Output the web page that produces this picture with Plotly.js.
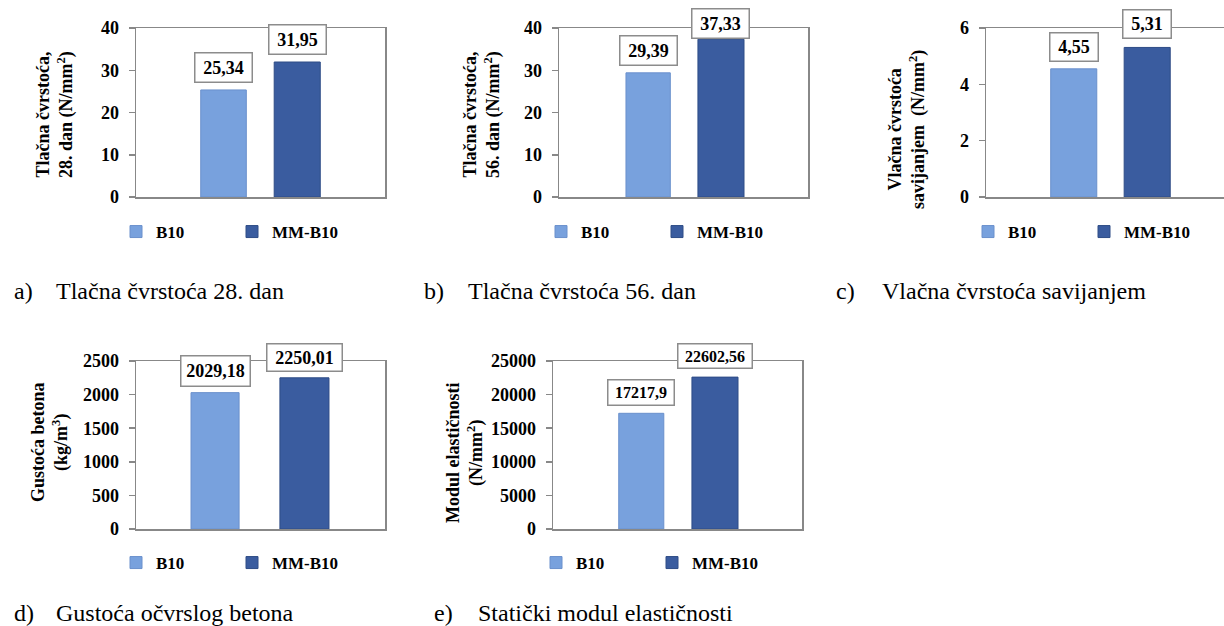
<!DOCTYPE html>
<html><head><meta charset="utf-8">
<script src="https://cdn.plot.ly/plotly-3.0.1.min.js"></script>
<style>html,body{margin:0;padding:0;background:#fff;} #chart{width:1224px;height:626px;}</style>
</head><body><div id="chart"></div>
<script>
// ---- data ----
const seriesNames = ['B10', 'MM-B10'];
const groupPos = [0];
const tlacna28 = [25.34, 31.95];
const tlacna56 = [29.39, 37.33];
const vlacnaSav = [4.55, 5.31];
const gustoca = [2029.18, 2250.01];
const modulElast = [17217.9, 22602.56];
const yTitles = [
  'Tlačna čvrstoća,<br>28. dan (N/mm<sup>2</sup>)',
  'Tlačna čvrstoća,<br>56. dan (N/mm<sup>2</sup>)',
  'Vlačna čvrstoća<br>savijanjem  (N/mm<sup>2</sup>)',
  'Gustoća betona<br>(kg/m<sup>3</sup>)',
  'Modul elastičnosti<br>(N/mm<sup>2</sup>)'
];
const capLetters = ['a)', 'b)', 'c)', 'd)', 'e)'];
const capTexts = ['Tlačna čvrstoća 28. dan', 'Tlačna čvrstoća 56. dan', 'Vlačna čvrstoća savijanjem', 'Gustoća očvrslog betona', 'Statički modul elastičnosti'];

// ---- layout config ----
const W = 1224, H = 626;
const FONT = 'Liberation Serif';
const colors = ['#78A1DD', '#3A5C9F'];
const lineColors = ['#6A90CC', '#2E4C86'];
const axisColor = '#888888';
const panels = [
  {vals: tlacna28, dom: [136, 385, 28, 197], yr: [0, 40], dtick: 10, xr: [-0.5, 0.5], mirrorY: true,
   w: [0.183, 0.185], off: [-0.240, 0.055], tx: 55, ty: 115, cap: [12, 54, 291], leg: [116, 232],
   lf: 18, box: [[50, 22], [50, 22]], ys: [7, 7]},
  {vals: tlacna56, dom: [559, 808, 28, 197], yr: [0, 40], dtick: 10, xr: [-0.5, 0.5], mirrorY: true,
   w: [0.178, 0.185], off: [-0.231, 0.058], tx: 482, ty: 115, cap: [422, 466, 291], leg: [541, 232],
   lf: 18, box: [[50, 22], [50, 22]], ys: [7, 0]},
  {vals: vlacnaSav, dom: [986, 1224, 28, 197], yr: [0, 6], dtick: 2, xr: [-0.5, 0.456], mirrorY: false,
   w: [0.185, 0.185], off: [-0.240, 0.055], tx: 907, ty: 130, cap: [834, 880, 291], leg: [968, 232],
   lf: 18, box: [[41, 21], [41, 21]], ys: [7, 8]},
  {vals: gustoca, dom: [136, 385, 361, 529], yr: [0, 2500], dtick: 500, xr: [-0.5, 0.5], mirrorY: true,
   w: [0.193, 0.197], off: [-0.279, 0.078], tx: 50, ty: 442, cap: [12, 54, 613], leg: [116, 563],
   lf: 18, box: [[62, 23], [68, 20]], ys: [6, 6]},
  {vals: modulElast, dom: [553, 802, 361, 529], yr: [0, 25000], dtick: 5000, xr: [-0.5, 0.5], mirrorY: true,
   w: [0.181, 0.185], off: [-0.236, 0.058], tx: 465, ty: 453, cap: [432, 476, 613], leg: [536, 563],
   lf: 16, box: [[59, 18], [67, 17]], ys: [7, 8]}
];

const fmt = v => String(v).replace('.', ',');
const data = [];
const layout = {
  width: W, height: H, margin: {l: 0, r: 0, t: 0, b: 0},
  paper_bgcolor: '#fff', plot_bgcolor: '#fff',
  barmode: 'overlay', annotations: [], font: {family: FONT, color: '#000'}
};

panels.forEach((p, i) => {
  const n = i === 0 ? '' : String(i + 1);
  const xa = 'x' + n, ya = 'y' + n;
  const legName = 'legend' + n;
  seriesNames.forEach((s, k) => {
    data.push({
      type: 'bar', name: s, x: groupPos, y: [p.vals[k]],
      xaxis: xa, yaxis: ya, legend: legName,
      width: p.w[k], offset: p.off[k],
      marker: {color: colors[k], line: {color: lineColors[k], width: 1}},
      hoverinfo: 'name+y'
    });
    layout.annotations.push({
      xref: xa, yref: ya, x: p.off[k] + p.w[k] / 2, y: p.vals[k],
      xanchor: 'center', yanchor: 'bottom', yshift: p.ys[k],
      text: fmt(p.vals[k]), showarrow: false,
      font: {family: FONT, size: p.lf, weight: 'bold', color: '#000'},
      bgcolor: '#fff', bordercolor: '#8c8c8c', borderwidth: 1.5, borderpad: 3,
      width: p.box[k][0], height: p.box[k][1]
    });
  });
  layout['xaxis' + n] = {
    domain: [p.dom[0] / W, p.dom[1] / W], anchor: ya, range: p.xr,
    showline: true, linecolor: axisColor, linewidth: 1.5, mirror: true,
    showticklabels: false, ticks: '', showgrid: false, zeroline: false, fixedrange: true
  };
  layout['yaxis' + n] = {
    domain: [1 - p.dom[3] / H, 1 - p.dom[2] / H], anchor: xa, range: p.yr, dtick: p.dtick,
    tickformat: 'd',
    showline: true, linecolor: axisColor, linewidth: 1.5, mirror: p.mirrorY,
    ticks: 'outside', ticklen: 6, tickcolor: axisColor, tickwidth: 1.5,
    ticklabelstandoff: 6,
    tickfont: {family: FONT, size: 18, weight: 'bold', color: '#000'},
    showgrid: false, zeroline: false, fixedrange: true
  };
  layout[legName] = {
    orientation: 'h', x: p.leg[0] / W, y: 1 - p.leg[1] / H, xanchor: 'left', yanchor: 'middle',
    font: {family: FONT, size: 17, weight: 'bold', color: '#000'},
    bgcolor: 'rgba(0,0,0,0)', entrywidth: 71, entrywidthmode: 'pixels', traceorder: 'normal'
  };
  layout.annotations.push({
    xref: 'paper', yref: 'paper', x: p.tx / W, y: 1 - p.ty / H, xanchor: 'center', yanchor: 'middle',
    text: yTitles[i], textangle: -90, showarrow: false,
    font: {family: FONT, size: 18, weight: 'bold', color: '#000'}
  });
  layout.annotations.push({
    xref: 'paper', yref: 'paper', x: p.cap[0] / W, y: 1 - p.cap[2] / H, xanchor: 'left', yanchor: 'middle',
    text: capLetters[i], showarrow: false, font: {family: FONT, size: 24, color: '#000'}
  });
  layout.annotations.push({
    xref: 'paper', yref: 'paper', x: p.cap[1] / W, y: 1 - p.cap[2] / H, xanchor: 'left', yanchor: 'middle',
    text: capTexts[i], showarrow: false, font: {family: FONT, size: 24, color: '#000'}
  });
});

Plotly.newPlot('chart', data, layout, {displayModeBar: false, staticPlot: true});
</script>
</body></html>
